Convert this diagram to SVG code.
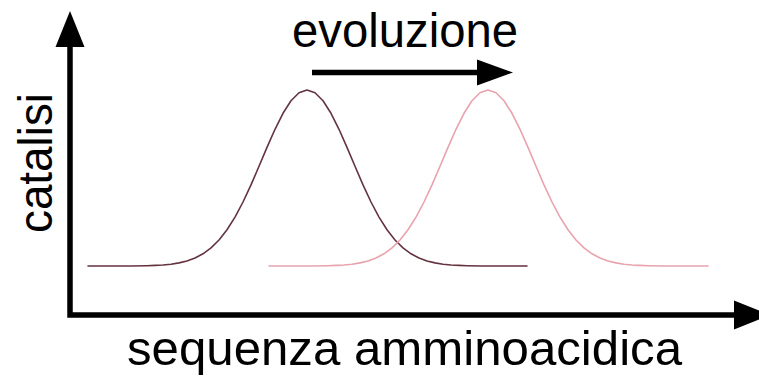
<svg xmlns="http://www.w3.org/2000/svg" width="759" height="377" viewBox="0 0 759 377">
<style>
.lbl{font-family:"Liberation Sans",Arial,sans-serif;font-size:48px;fill:#000}
.axis{fill:none;stroke:#000;stroke-width:5.5}
.head{fill:#000}
.curve{fill:none;stroke-width:1.6;stroke-linejoin:round;stroke-linecap:round}
</style>
<defs>
<path id="gauss" d="M-219,266 L-176,266 L-160,265.7 L-152,265.4 L-144,265 L-136,264.2 L-128,262.9 L-120,261 L-112,258 L-104,253.8 L-96,247.9 L-88,240 L-80,229.8 L-72,217.1 L-64,202 L-56,184.9 L-48,166.3 L-40,147.4 L-32,129.3 L-24,113.3 L-16,100.8 L-8,92.8 L0,90 L8,92.8 L16,100.8 L24,113.3 L32,129.3 L40,147.4 L48,166.3 L56,184.9 L64,202 L72,217.1 L80,229.8 L88,240 L96,247.9 L104,253.8 L112,258 L120,261 L128,262.9 L136,264.2 L144,265 L152,265.4 L160,265.7 L176,266 L220,266"/>
</defs>
<g id="connectors">
<path class="axis" d="M70,45 V315 H740"/>
<polygon class="head" points="70,11 84.5,47 55.5,47"/>
<polygon class="head" points="734,300.5 770,315 734,329.5"/>
<path class="axis" d="M312,72.5 H480"/>
<polygon class="head" points="477,59.5 513,72.5 477,85.5"/>
</g>
<g id="curve-original">
<use href="#gauss" class="curve" stroke="#643340" transform="translate(307,0)"/>
</g>
<g id="curve-evolved">
<use href="#gauss" class="curve" stroke="#e8a3ae" transform="translate(488,0)"/>
</g>
<g id="label-evoluzione">
<text class="lbl" x="292" y="47" textLength="226" lengthAdjust="spacingAndGlyphs">evoluzione</text>
</g>
<g id="label-catalisi">
<text class="lbl" transform="translate(52,233) rotate(-90)" x="0" y="0" textLength="140" lengthAdjust="spacingAndGlyphs">catalisi</text>
</g>
<g id="label-sequenza">
<text class="lbl" x="127" y="365" textLength="555" lengthAdjust="spacingAndGlyphs">sequenza amminoacidica</text>
</g>
</svg>
